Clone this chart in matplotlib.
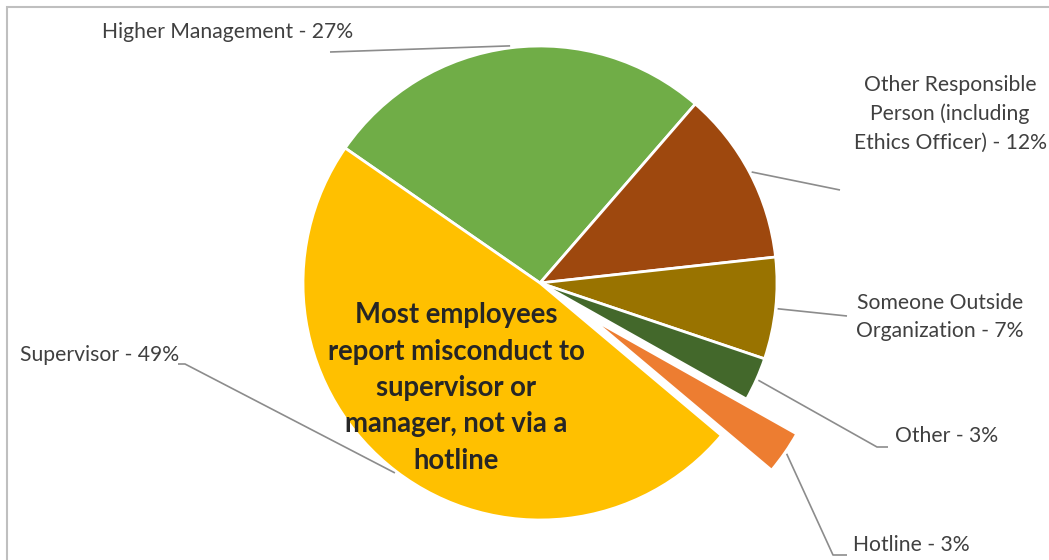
import numpy as np
import matplotlib
matplotlib.use("Agg")
import matplotlib.pyplot as plt
from matplotlib.patches import Rectangle

# slices, clockwise starting at the top-left edge of "Higher Management"
labels = [
    "Higher Management - 27%",
    "Other Responsible\nPerson (including\nEthics Officer) - 12%",
    "Someone Outside\nOrganization - 7%",
    "Other - 3%",
    "Hotline - 3%",
    "Supervisor - 49%",
]
values = [27, 12, 7, 3, 3, 49]
colors = ["#70AD47", "#9E480E", "#997300", "#43682B", "#ED7D31", "#FFC000"]
explode = [0, 0, 0, 0, 61, 0]   # in pixels (pie explode is absolute)
note = "Most employees\nreport misconduct to\nsupervisor or\nmanager, not via a\nhotline"

W, H = 1049, 560
plt.rcParams["font.family"] = ["Lato", "DejaVu Sans"]

fig = plt.figure(figsize=(W / 100, H / 100), dpi=100)
ax = fig.add_axes([0, 0, 1, 1])
ax.axis("off")


def py(y):
    # image rows (from top) -> axes y
    return H - y


cx, cy, R = 540, py(283), 237
wedges, _ = ax.pie(values, colors=colors, explode=explode, startangle=145.3,
                   counterclock=False, center=(cx, cy), radius=R,
                   wedgeprops=dict(edgecolor="white", linewidth=2))
ax.set_xlim(0, W)
ax.set_ylim(0, H)
ax.set_aspect("equal")

# light frame around the chart area
ax.add_patch(Rectangle((7, py(1000)), 1200, 1000 - 7, fill=False,
                       edgecolor="#bfbfbf", linewidth=1.5))

# label text centres, and leader path after the point on the wedge
label_pos = [
    (228, 32),
    (950, 114),
    (940, 317),
    (947, 436),
    (911, 545),
    (100, 355),
]
leader_tail = [
    [(330, 52)],
    [(840, 190)],
    [(847, 316)],
    [(877, 447), (888, 447)],
    [(833, 555), (847, 555)],
    [(185, 364), (178, 364)],
]

txt_col = "#404040"
line_col = "#8c8c8c"
for w, lab, (tx, ty), tail, ex in zip(wedges, labels, label_pos, leader_tail, explode):
    mid = np.deg2rad((w.theta1 + w.theta2) / 2)
    r = R + ex + 2
    sx, sy = cx + r * np.cos(mid), cy + r * np.sin(mid)
    xs = [sx] + [p[0] for p in tail]
    ys = [sy] + [py(p[1]) for p in tail]
    ax.plot(xs, ys, color=line_col, linewidth=1.2, solid_capstyle="butt")
    ax.text(tx, py(ty), lab, ha="center", va="center", fontsize=15.2,
            color=txt_col, linespacing=1.55, multialignment="center")

ax.text(456, py(388), note, ha="center", va="center", fontsize=19.8,
        fontweight="bold", color="#262626", linespacing=1.49)

fig.savefig("out.png", dpi=100)
